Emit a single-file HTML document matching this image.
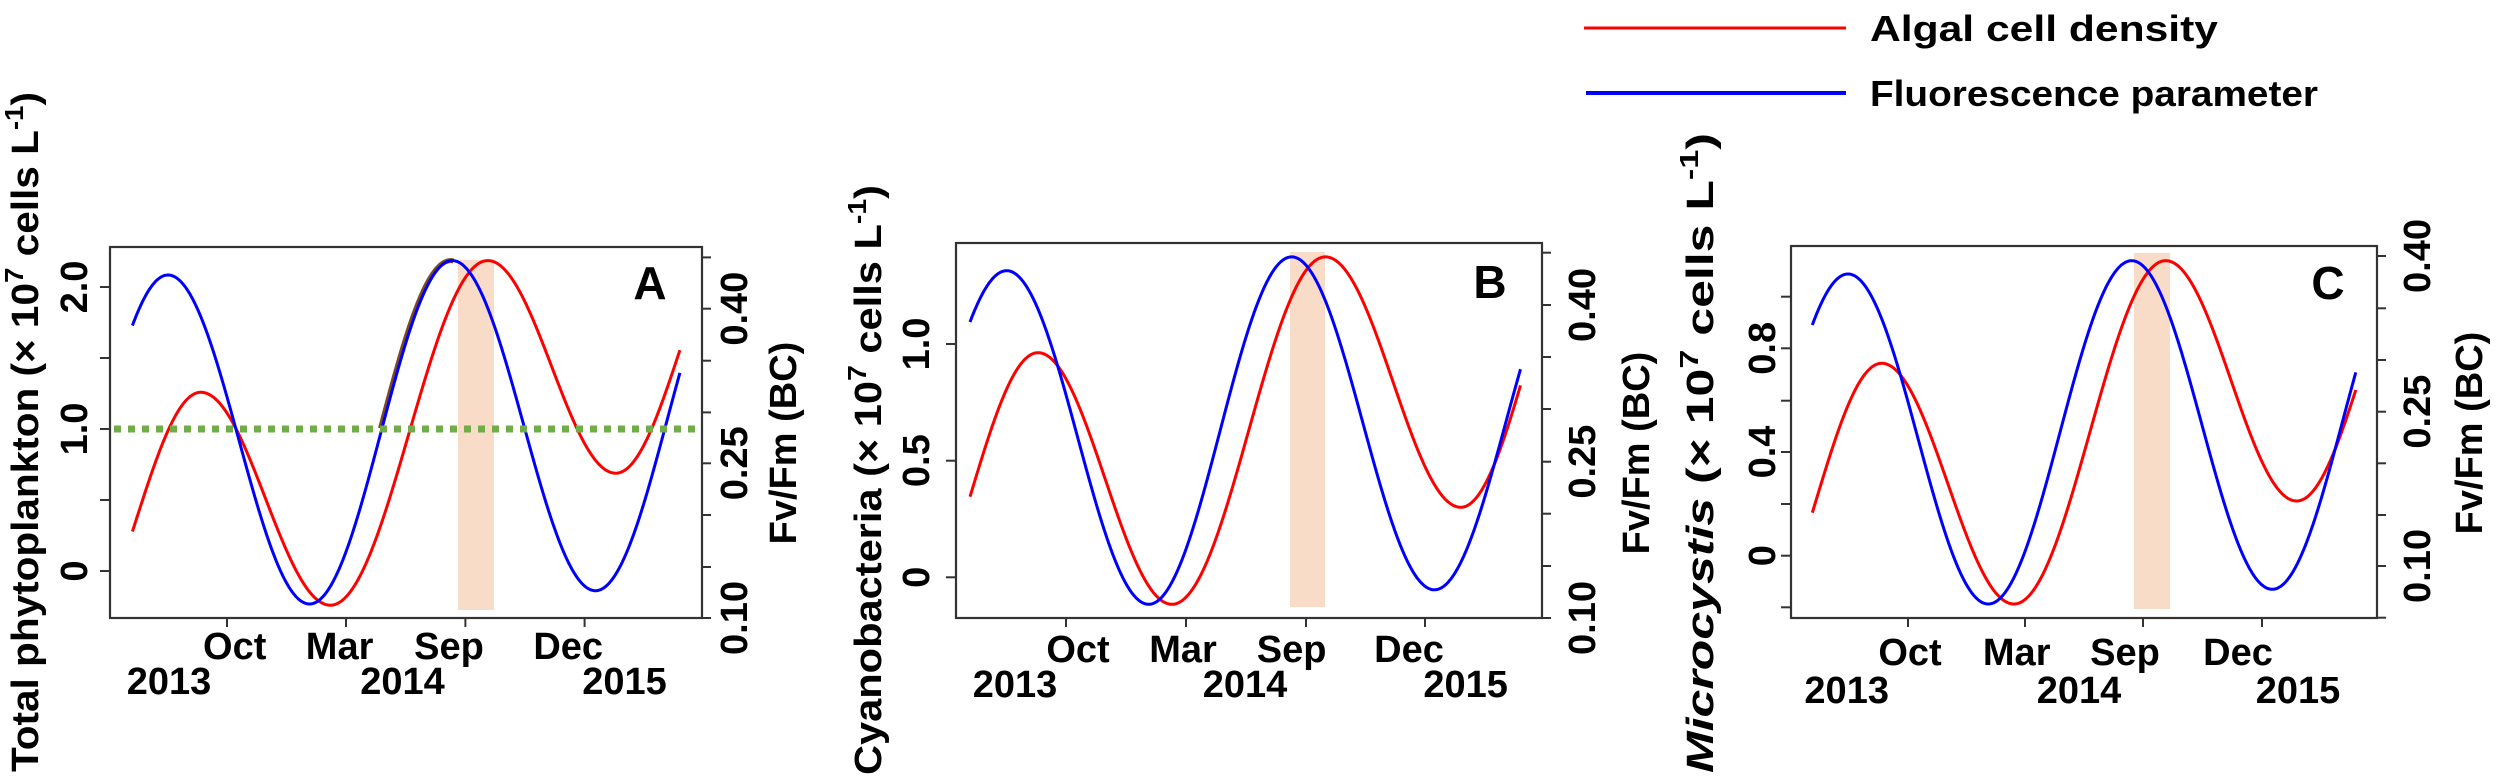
<!DOCTYPE html>
<html><head><meta charset="utf-8"><style>
html,body{margin:0;padding:0;background:#fff;}
svg{display:block;}
text{font-family:"Liberation Sans",Arial,sans-serif;font-weight:bold;fill:#000;}
</style></head><body>
<svg id="s" width="2500" height="779" viewBox="0 0 2500 779" xmlns="http://www.w3.org/2000/svg">
<!-- legend -->
<line x1="1584" y1="28" x2="1846" y2="28" stroke="#ff0000" stroke-width="3"/>
<line x1="1586" y1="93" x2="1846" y2="93" stroke="#0000ff" stroke-width="4"/>
<text x="1870" y="41" font-size="36" textLength="348" lengthAdjust="spacingAndGlyphs">Algal cell density</text>
<text x="1870" y="106" font-size="36" textLength="448" lengthAdjust="spacingAndGlyphs">Fluorescence parameter</text>

<!-- bands -->
<rect x="458" y="260" width="36" height="350" fill="#f8dcc8"/>
<rect x="1290" y="252" width="35" height="355" fill="#f8dcc8"/>
<rect x="2134" y="253" width="36" height="356" fill="#f8dcc8"/>

<g id="curves"></g>

<!-- green dotted -->
<line x1="114" y1="429" x2="702" y2="429" stroke="#70ad47" stroke-width="7" stroke-dasharray="7 7"/>

<!-- frames -->
<g fill="none" stroke="#333" stroke-width="2.2">
<rect x="110" y="247" width="592" height="371"/>
<rect x="956" y="243" width="586" height="375"/>
<rect x="1791" y="246" width="586" height="372"/>
</g>
<g id="ticks" stroke="#333" stroke-width="2"></g>
<g id="labels"></g>
</svg>
<script>
var NS="http://www.w3.org/2000/svg";
function el(tag,attrs,parent,txt){var e=document.createElementNS(NS,tag);for(var k in attrs)e.setAttribute(k,attrs[k]);if(txt!==undefined)e.textContent=txt;parent.appendChild(e);return e;}
function curveFn(start,ext,end){
  var n=ext.length;
  var h=ext[1][0]-ext[0][0];var x0=ext[0][0]-h;var t=(start[0]-x0)/h;var f=(1-Math.cos(Math.PI*t))/2;
  var V=(start[1]-ext[0][1]*f)/(1-f);
  var an=[[x0,V]].concat(ext);
  h=ext[n-1][0]-ext[n-2][0];var x1=ext[n-1][0]+h;t=(end[0]-ext[n-1][0])/h;f=(1-Math.cos(Math.PI*t))/2;
  var V2=(end[1]-ext[n-1][1]*(1-f))/f;an.push([x1,V2]);
  return function(x){for(var i=0;i<an.length-1;i++){if(x<=an[i+1][0]){var a=an[i],b=an[i+1];var tt=(x-a[0])/(b[0]-a[0]);return a[1]+(b[1]-a[1])*(1-Math.cos(Math.PI*tt))/2;}}return an[an.length-1][1];};
}
function path(fn,xa,xb,dx){var d="";for(var x=xa;x<=xb+0.001;x+=0.5){d+=(d?"L":"M")+(x+(dx||0)).toFixed(1)+" "+fn(x).toFixed(1);}return d;}
var g=document.getElementById("curves");
var C=[
 {c:"#ff0000",s:[132.4,531.5],e:[[200.8,392.3],[330.4,605.2],[487.8,260.6],[615.8,473.2]],n:[680.2,349.3]},
 {c:"#0000ff",s:[132.4,325.6],e:[[168,275],[309.6,604],[452.3,260.6],[595.5,590.7]],n:[680.2,371.8],brown:true},
 {c:"#ff0000",s:[970,496.7],e:[[1038,352.7],[1172,604.3],[1325.4,256.9],[1460.8,507.3]],n:[1520.6,385]},
 {c:"#0000ff",s:[970,322],e:[[1006.7,270.7],[1148.7,604.3],[1291.6,256.9],[1434.4,589.8]],n:[1520.6,368.9]},
 {c:"#ff0000",s:[1812.3,512.7],e:[[1881.7,363.3],[2014,604],[2165.7,260.7],[2296.7,501]],n:[2356,389.3]},
 {c:"#0000ff",s:[1812.3,325],e:[[1848,274],[1988.3,604],[2131.7,260.7],[2272.3,589.3]],n:[2356,371.7]}
];
C.forEach(function(o){var fn=curveFn(o.s,o.e,o.n);
 if(o.brown){el("path",{d:path(fn,382,455,-1.5),fill:"none",stroke:"#7b4a1e","stroke-width":5},g);}
 el("path",{d:path(fn,o.s[0],o.n[0]),fill:"none",stroke:o.c,"stroke-width":3,"stroke-linejoin":"round"},g);
});
var tk=document.getElementById("ticks");
function xt(xs,y){xs.forEach(function(x){el("line",{x1:x,y1:y,x2:x,y2:y+9},tk);});}
function lt(x,ys){ys.forEach(function(y){el("line",{x1:x-10,y1:y,x2:x,y2:y},tk);});}
function rt(x,ys){ys.forEach(function(y){el("line",{x1:x,y1:y,x2:x+9,y2:y},tk);});}
xt([227,346,465.4,584.6],618);xt([1066,1186,1306,1425],618);xt([1908,2025,2143,2262],618);
lt(110,[287,358,429,500,571]);lt(956,[344,460.7,577.3]);lt(1791,[296.7,348.3,400.7,452,504,555.7,607.3]);
rt(702,[257.4,308.7,360.7,412.4,463.3,515,567,618]);rt(1542,[252.7,305,357,409,461.7,513.7,566,618]);rt(2377,[256,308.3,360,411.7,463.3,515,566,617.7]);
var lb=document.getElementById("labels");
function t(x,y,s,fs,rot,extra){var a={x:x,y:y,"font-size":fs||38,"text-anchor":"middle","dominant-baseline":"central"};if(rot)a.transform="rotate(-90 "+x+" "+y+")";for(var k in extra)a[k]=extra[k];return el("text",a,lb,s);}
// x labels
[["Oct",234.7],["Mar",339.6],["Sep",449],["Dec",568.2]].forEach(function(p){t(p[1],647,p[0]);});
[["2013",169],["2014",402.5],["2015",624.5]].forEach(function(p){t(p[1],682,p[0]);});
[["Oct",1078],["Mar",1183],["Sep",1291.6],["Dec",1409]].forEach(function(p){t(p[1],650,p[0]);});
[["2013",1015],["2014",1245],["2015",1465.6]].forEach(function(p){t(p[1],685,p[0]);});
[["Oct",1910],["Mar",2016.7],["Sep",2125],["Dec",2238]].forEach(function(p){t(p[1],653,p[0]);});
[["2013",1846.7],["2014",2079],["2015",2298]].forEach(function(p){t(p[1],691,p[0]);});
// left tick labels
[["2.0",287],["1.0",429],["0",571]].forEach(function(p){t(75,p[1],p[0],38,true);});
[["1.0",344],["0.5",460.7],["0",577.3]].forEach(function(p){t(917,p[1],p[0],38,true);});
[["0.8",348.3],["0.4",452],["0",555.7]].forEach(function(p){t(1763,p[1],p[0],38,true);});
// right tick labels
[["0.40",308.7],["0.25",463.3],["0.10",618]].forEach(function(p){t(735,p[1],p[0],38,true);});
[["0.40",305],["0.25",461.7],["0.10",618]].forEach(function(p){t(1583,p[1],p[0],38,true);});
[["0.40",256],["0.25",411.7],["0.10",566]].forEach(function(p){t(2418,p[1],p[0],38,true);});
t(784,443,"Fv/Fm (BC)",38,true);t(1637,453,"Fv/Fm (BC)",38,true);t(2470,433,"Fv/Fm (BC)",38,true);
t(650,283,"A",46);t(1490,282,"B",46);t(2328,283,"C",46);
// titles
function title(x,y,pre,italic,len){
 var e=el("text",{x:x,y:y,"font-size":38,"text-anchor":"middle","dominant-baseline":"central",transform:"rotate(-90 "+x+" "+y+")",textLength:len,lengthAdjust:"spacingAndGlyphs"},lb);
 var a=el("tspan",{},e,pre);if(italic)a.setAttribute("font-style","italic");
 el("tspan",{},e,"  (\u00d7 10");el("tspan",{dy:-12,"font-size":26},e,"7");el("tspan",{dy:12},e," cells L");
 el("tspan",{dy:-12,"font-size":26},e,"-1");el("tspan",{dy:12},e,")");
}
title(26,432,"Total phytoplankton",false,680);
title(869,480,"Cyanobacteria",false,590);
title(1701,453,"Microcystis",true,640);
</script>
</body></html>
